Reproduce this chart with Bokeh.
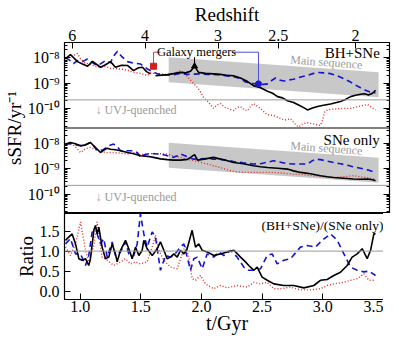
import numpy as np
from bokeh.plotting import figure
from bokeh.models import (Range1d, LogScale, LogAxis, LinearAxis, FixedTicker,
                          CustomJSTickFormatter, Span, Label)
from bokeh.layouts import column
from bokeh.embed import file_html
from bokeh.resources import INLINE

# ---------------- data ----------------
# BH+SNe run: cosmic time (Gyr) and log10 sSFR (yr^-1)
t_bh_main = [0.879, 0.920, 0.978, 1.019, 1.061, 1.102, 1.168, 1.209, 1.250, 1.291, 1.341, 1.390,
             1.440, 1.481, 1.514, 1.547, 1.580, np.nan, 1.621, 1.671, 1.720, 1.770, 1.827, 1.869,
             1.910, 1.943, 1.976, 2.033, 2.099, 2.157, 2.215, 2.264, 2.322, 2.380, 2.429, 2.487,
             2.545, 2.586, 2.627, 2.668, 2.709, 2.759, 2.817, 2.850, 2.874, 2.915, 2.957, 3.006,
             3.064, 3.105, 3.146, 3.187, 3.229, 3.270, 3.311, 3.344, 3.377, 3.410, 3.435]
lssfr_bh_main = [-8.05, -7.88, -8.16, -8.25, -8.34, -8.15, -8.38, -8.28, -8.16, -8.38, -8.30, -8.31,
                 -8.51, -8.40, -8.38, -8.55, -8.64, np.nan, -8.71, -8.69, -8.67, -8.63, -8.58, -8.60,
                 -8.54, -8.34, -8.58, -8.62, -8.64, -8.66, -8.70, -8.71, -8.80, -8.94, -9.10, -9.18,
                 -9.32, -9.40, -9.53, -9.58, -9.69, -9.76, -9.90, -9.98, -10.05, -9.98, -9.92, -9.87,
                 -9.82, -9.77, -9.72, -9.64, -9.53, -9.48, -9.44, -9.42, -9.47, -9.40, -9.28]

t_bh_blue = [0.879, 0.912, 0.945, 0.978, 1.019, 1.061, 1.085, 1.135, 1.168, 1.209, 1.250, 1.275,
             1.308, 1.341, 1.390, 1.440, 1.497, 1.555, 1.596, 1.638, 1.704, 1.770, 1.827, 1.885,
             1.935, 1.992, 2.050, 2.099, 2.157, 2.215, 2.264, 2.322, 2.363, 2.388, 2.429, 2.470,
             2.512, 2.545, 2.578, 2.611, 2.644, 2.677, 2.718, 2.759, 2.817, 2.874, 2.924, 2.957,
             3.006, 3.064, 3.122, 3.171, 3.229, 3.270, 3.311, 3.353, 3.394, 3.435]
lssfr_bh_blue = [-8.00, -8.10, -8.24, -8.12, -8.16, -8.06, -8.15, -8.30, -8.25, -8.12, -8.20, -7.95,
                 -7.75, -7.95, -8.16, -8.22, -8.25, -8.45, -8.55, -8.64, -8.68, -8.68, -8.62, -8.66,
                 -8.65, -8.64, -8.66, -8.66, -8.68, -8.72, -8.75, -8.82, -8.96, -8.98, -9.02, -9.03,
                 -9.05, -9.03, -8.90, -8.80, -8.88, -8.92, -8.88, -8.85, -8.76, -8.70, -8.62, -8.58,
                 -8.60, -8.63, -8.72, -8.82, -8.96, -9.08, -9.18, -9.28, -9.36, -9.38]

t_bh_red = [0.879, 0.920, 0.953, 0.978, 1.003, 1.036, 1.061, 1.102, 1.135, 1.168, 1.209, 1.250,
            1.308, 1.349, 1.390, 1.440, 1.497, 1.555, 1.580, 1.605, 1.663, 1.704, 1.745, 1.786,
            1.827, 1.860, 1.885, 1.926, 1.968, 1.992, 2.017, 2.058, 2.099, 2.132, 2.157, 2.190,
            2.215, 2.264, 2.297, 2.322, 2.355, 2.380, 2.404, 2.429, 2.462, 2.487, 2.520, 2.545,
            2.594, 2.635, 2.685, 2.734, 2.775, 2.800, 2.833, 2.866, 2.899, 2.940, 2.981, 2.998,
            3.014, 3.039, 3.089, 3.146, 3.187, 3.229, 3.278, 3.328, 3.369, 3.402, 3.435]
lssfr_bh_red = [-8.00, -7.95, -7.90, -7.84, -8.05, -8.20, -8.24, -8.30, -8.36, -8.38, -8.35, -8.42,
                -8.44, -8.46, -8.50, -8.58, -8.62, -8.70, -8.60, -8.62, -8.64, -8.66, -8.67, -8.60,
                -8.51, -8.62, -8.75, -8.97, -9.18, -9.35, -9.56, -9.75, -9.99, -9.85, -9.80, -9.95,
                -9.99, -10.08, -9.95, -9.92, -10.05, -10.08, -9.92, -9.80, -9.92, -9.99, -10.15, -10.24,
                -10.27, -10.36, -10.45, -10.40, -10.62, -10.72, -10.60, -10.55, -10.58, -10.62, -10.66, -10.45,
                -10.14, -10.05, -10.02, -10.00, -9.99, -9.99, -9.94, -9.88, -9.84, -9.95, -10.05]

# SNe-only run
t_sn_main = [0.879, 0.920, 0.962, 1.003, 1.044, 1.085, 1.127, 1.168, 1.201, 1.225, 1.250, 1.291,
             1.333, 1.390, 1.440, 1.497, 1.555, 1.605, 1.663, 1.720, 1.770, 1.827, 1.885, 1.943,
             1.968, 2.033, 2.099, 2.157, 2.215, 2.264, 2.346, 2.429, 2.487, 2.545, 2.627, 2.709,
             2.759, 2.817, 2.899, 2.981, 3.039, 3.089, 3.171, 3.253, 3.311, 3.369, 3.410, 3.435]
lssfr_sn_main = [-8.04, -7.98, -8.03, -8.11, -8.07, -7.98, -8.18, -8.37, -8.26, -8.20, -8.24, -8.26,
                 -8.30, -8.37, -8.42, -8.50, -8.52, -8.56, -8.62, -8.65, -8.67, -8.67, -8.64, -8.45,
                 -8.67, -8.62, -8.56, -8.63, -8.69, -8.76, -8.81, -8.89, -8.93, -8.96, -8.99, -9.02,
                 -9.09, -9.15, -9.20, -9.28, -9.32, -9.35, -9.38, -9.41, -9.42, -9.41, -9.44, -9.48]

t_sn_blue = [0.879, 0.920, 0.978, 1.027, 1.085, 1.118, 1.143, 1.192, 1.234, 1.275, 1.308, 1.333,
             1.390, 1.440, 1.473, 1.497, 1.530, 1.555, 1.605, 1.663, 1.720, 1.770, 1.803, 1.827,
             1.885, 1.935, 1.992, 2.050, 2.099, 2.157, 2.215, 2.264, 2.346, 2.429, 2.487, 2.545,
             2.594, 2.652, 2.709, 2.759, 2.817, 2.874, 2.915, 2.940, 2.981, 3.039, 3.089, 3.146,
             3.204, 3.253, 3.311, 3.369, 3.435]
lssfr_sn_blue = [-8.04, -8.03, -8.08, -8.11, -7.98, -8.15, -8.30, -8.26, -8.11, -8.04, -8.15, -8.30,
                 -8.30, -8.30, -8.38, -8.56, -8.46, -8.43, -8.42, -8.43, -8.50, -8.56, -8.50, -8.43,
                 -8.54, -8.63, -8.62, -8.60, -8.63, -8.64, -8.67, -8.72, -8.77, -8.82, -8.81, -8.75,
                 -8.69, -8.75, -8.81, -8.82, -8.82, -8.82, -8.69, -8.63, -8.65, -8.71, -8.76, -8.81,
                 -8.87, -8.93, -8.99, -9.05, -9.15]

t_sn_red = [0.879, 0.920, 0.962, 1.003, 1.044, 1.085, 1.127, 1.168, 1.209, 1.250, 1.308, 1.390,
            1.440, 1.497, 1.555, 1.605, 1.663, 1.720, 1.770, 1.827, 1.885, 1.935, 1.992, 2.050,
            2.099, 2.157, 2.215, 2.264, 2.346, 2.429, 2.512, 2.594, 2.677, 2.759, 2.841, 2.924,
            3.006, 3.089, 3.171, 3.253, 3.311, 3.369, 3.435]
lssfr_sn_red = [-8.04, -7.98, -8.15, -8.37, -8.22, -8.17, -8.26, -8.30, -8.38, -8.37, -8.38, -8.43,
                -8.38, -8.46, -8.42, -8.41, -8.42, -8.43, -8.50, -8.56, -8.64, -8.69, -8.75, -8.82,
                -8.89, -8.96, -9.05, -9.11, -9.15, -9.15, -9.15, -9.15, -9.18, -9.22, -9.24, -9.28,
                -9.32, -9.35, -9.32, -9.28, -9.32, -9.36, -9.41]

# Ratio (BH+SNe)/(SNe only)
t_ratio_main = [0.879, 0.893, 0.934, 0.962, 0.989, 1.016, 1.044, 1.071, 1.085, 1.113, 1.126, 1.140,
                1.154, 1.181, 1.209, 1.236, 1.264, 1.291, 1.305, 1.333, 1.374, 1.401, 1.429, 1.456,
                1.484, 1.511, 1.525, 1.552, 1.594, 1.635, 1.662, 1.690, 1.717, 1.745, 1.772, 1.800,
                1.827, 1.855, 1.882, 1.923, 1.951, 1.978, 2.006, 2.047, 2.102, 2.157, 2.212, 2.267,
                2.322, 2.363, 2.390, 2.432, 2.459, 2.500, 2.542, 2.597, 2.679, 2.761, 2.844, 2.926,
                2.981, 3.036, 3.091, 3.146, 3.201, 3.242, 3.284, 3.325, 3.366, 3.394, 3.421, 3.435]
ratio_main = [1.27, 1.31, 1.43, 1.18, 0.81, 0.77, 0.81, 0.64, 0.81, 1.52, 1.64, 1.43,
              1.60, 1.10, 0.81, 0.85, 1.18, 0.93, 0.73, 1.02, 1.27, 1.06, 0.81, 1.10,
              0.89, 1.02, 1.27, 1.06, 0.89, 1.06, 1.23, 1.02, 0.81, 0.85, 0.93, 0.85,
              1.02, 0.93, 1.06, 1.52, 1.10, 1.18, 1.02, 0.98, 0.89, 0.93, 0.98, 1.02,
              0.85, 0.73, 0.64, 0.52, 0.60, 0.35, 0.27, 0.18, 0.14, 0.14, 0.08, 0.14,
              0.27, 0.29, 0.39, 0.47, 0.64, 0.85, 0.93, 1.06, 0.81, 1.02, 1.43, 1.43]

t_ratio_blue = [0.879, 0.920, 0.962, 1.003, 1.044, 1.071, 1.099, 1.140, 1.168, 1.195, 1.223, 1.264,
                1.291, 1.333, 1.374, 1.401, 1.442, 1.470, 1.497, 1.525, 1.552, 1.594, 1.621, 1.662,
                1.704, 1.745, 1.772, 1.827, 1.855, 1.882, 1.910, 1.937, 1.965, 2.006, 2.047, 2.102,
                2.143, 2.184, 2.239, 2.294, 2.349, 2.390, 2.432, 2.487, 2.542, 2.583, 2.624, 2.679,
                2.734, 2.816, 2.871, 2.940, 2.995, 3.064, 3.119, 3.174, 3.229, 3.284, 3.339, 3.380,
                3.435]
ratio_blue = [1.18, 1.31, 0.93, 0.93, 0.64, 0.89, 1.48, 1.43, 1.18, 1.31, 0.85, 1.23,
              0.89, 0.98, 1.23, 0.93, 0.89, 1.18, 1.93, 1.43, 1.10, 1.48, 1.35, 0.52,
              0.89, 0.85, 0.89, 1.10, 1.18, 0.85, 0.52, 0.81, 0.85, 0.56, 0.93, 0.85,
              0.98, 0.89, 1.02, 0.85, 0.60, 0.52, 0.52, 0.56, 0.89, 0.93, 0.68, 0.77,
              0.81, 1.10, 1.14, 1.10, 1.27, 1.43, 1.27, 0.93, 0.60, 0.52, 0.48, 0.50,
              0.39]

t_ratio_red = [0.879, 0.920, 0.962, 1.003, 1.044, 1.071, 1.113, 1.140, 1.181, 1.223, 1.278, 1.333,
               1.374, 1.415, 1.456, 1.497, 1.552, 1.594, 1.621, 1.649, 1.690, 1.745, 1.800, 1.841,
               1.868, 1.896, 1.923, 1.951, 1.992, 2.033, 2.102, 2.157, 2.212, 2.294, 2.377, 2.432,
               2.487, 2.542, 2.597, 2.652, 2.734, 2.816, 2.899, 2.981, 3.036, 3.091, 3.174, 3.229,
               3.284, 3.339, 3.380, 3.435]
ratio_red = [1.10, 0.89, 1.18, 1.73, 1.02, 0.73, 1.14, 1.73, 0.85, 0.77, 0.64, 0.73,
             0.81, 0.68, 0.73, 0.68, 0.73, 1.10, 1.39, 1.02, 0.77, 0.60, 0.56, 0.93,
             1.14, 0.85, 0.31, 0.27, 0.39, 0.18, 0.06, 0.14, 0.08, 0.14, 0.10, 0.22,
             0.18, 0.22, 0.06, 0.06, 0.10, 0.03, 0.03, 0.06, 0.14, 0.18, 0.22, 0.27,
             0.31, 0.43, 0.27, 0.27]

# Main-sequence band (log10 sSFR edges at its two ends)
ms_t = [1.73, 3.46]
ms_lo = [-8.97, -9.56]
ms_hi = [-7.99, -8.58]
uvj_ssfr = 2.2e-10

# Galaxy-merger events (red, black, blue runs)
merger_t = [1.605, 1.943, 2.470]
merger_lssfr = [-8.34, -8.34, -9.03]

# Tick labels
redshift_labels = ["6", "4", "3", "2.5", "2"]
redshift_age = [0.934, 1.535, 2.137, 2.632, 3.270]
t_ticks = [1.0, 1.5, 2.0, 2.5, 3.0, 3.5]
ratio_ticks = [0.0, 0.5, 1.0, 1.5]
ssfr_major_exp = [-8, -9, -10]

# ---------------- styling ----------------
FONT = "Liberation Serif"
BLACK = "#000000"
BLUE = "#1414d2"
RED = "#e02828"
GREY = "#999999"
BAND = "#c8c8c8"

TOP_LO, TOP_HI = -10.76, -7.41
SPAN = TOP_HI - TOP_LO

x_range = Range1d(0.871, 3.55)


def pw(a):
    return 10.0 ** np.asarray(a, dtype=float)


def style_axis(ax):
    ax.major_tick_in = 6
    ax.major_tick_out = 0
    ax.minor_tick_in = 3
    ax.minor_tick_out = 0
    ax.axis_line_color = BLACK
    ax.major_tick_line_color = BLACK
    ax.minor_tick_line_color = BLACK
    ax.major_label_text_font = FONT
    ax.major_label_text_font_size = "16px"
    ax.major_label_text_color = BLACK
    ax.axis_label_text_font = FONT
    ax.axis_label_text_font_size = "19px"
    ax.axis_label_text_font_style = "normal"
    ax.axis_label_text_color = BLACK
    ax.major_label_standoff = 2
    ax.axis_label_standoff = 2


def hide_labels(ax):
    ax.major_label_text_font_size = "1px"
    ax.major_label_text_color = None
    ax.major_label_standoff = 0


# ---------- Figure A: sSFR panels (BH+SNe on top, SNe only below) ----------
pA = figure(frame_width=325, frame_height=171, x_range=x_range,
            y_axis_type="log", y_range=Range1d(10 ** (TOP_LO - SPAN), 10 ** TOP_HI),
            extra_y_ranges={"mid": Range1d(10 ** TOP_LO, 10 ** (TOP_HI + SPAN))},
            extra_y_scales={"mid": LogScale()},
            x_axis_location="above",
            output_backend="svg", toolbar_location=None,
            min_border_left=56, min_border_right=2, min_border_top=34, min_border_bottom=0)
pA.grid.visible = False
pA.outline_line_color = BLACK
pA.outline_line_width = 1.2

# y ticks: top panel at true values, middle panel shifted by one panel span
maj = []
mnr = []
for shift in (0.0, -SPAN):
    for e in ssfr_major_exp:
        maj.append(10 ** (e + shift))
    for d in range(-11, -7):
        for k in range(2, 10):
            lv = d + np.log10(k)
            if TOP_LO < lv < TOP_HI:
                mnr.append(10 ** (lv + shift))
yticker = FixedTicker(ticks=maj, minor_ticks=mnr)
yfmt = CustomJSTickFormatter(args=dict(lo=TOP_LO, span=SPAN), code="""
    let l = Math.log10(tick);
    if (l < lo - 1e-6) { l += span; }
    const e = Math.round(l);
    const sup = {'-': '\u207b', '0': '\u2070', '1': '\u00b9', '2': '\u00b2', '3': '\u00b3',
                 '4': '\u2074', '5': '\u2075', '6': '\u2076', '7': '\u2077', '8': '\u2078', '9': '\u2079'};
    return '10' + String(e).split('').map(c => sup[c]).join('');
""")
yax = pA.yaxis[0]
style_axis(yax)
yax.ticker = yticker
yax.formatter = yfmt
yax.axis_label = "sSFR/yr\u207b\u00b9"
yax.major_label_standoff = 5
yax.axis_label_standoff = 0

rax = LogAxis(ticker=yticker)
style_axis(rax)
hide_labels(rax)
pA.add_layout(rax, "right")

xax = pA.xaxis[0]
style_axis(xax)
xax.ticker = FixedTicker(ticks=redshift_age, minor_ticks=[])
xax.formatter = CustomJSTickFormatter(args=dict(ages=redshift_age, labels=redshift_labels), code="""
    const i = ages.findIndex(a => Math.abs(a - tick) < 1e-6);
    return i >= 0 ? labels[i] : '';
""")
xax.axis_label = "Redshift"

# main-sequence bands
pA.varea(x=ms_t, y1=pw(ms_lo), y2=pw(ms_hi), fill_color=BAND)
pA.varea(x=ms_t, y1=pw(ms_lo), y2=pw(ms_hi), fill_color=BAND, y_range_name="mid")

# UVJ lines and panel separator
pA.add_layout(Span(location=uvj_ssfr, dimension="width", line_color=GREY, line_width=1))
pA.add_layout(Span(location=uvj_ssfr, dimension="width", line_color=GREY, line_width=1, y_range_name="mid"))
pA.add_layout(Span(location=10 ** TOP_LO, dimension="width", line_color=BLACK, line_width=1.2))

# top panel curves
pA.line(t_bh_red, pw(lssfr_bh_red), line_color=RED, line_width=1.4, line_dash="1 2")
pA.line(t_bh_blue, pw(lssfr_bh_blue), line_color=BLUE, line_width=1.6, line_dash="6 4")
pA.line(t_bh_main, pw(lssfr_bh_main), line_color=BLACK, line_width=1.6)

# middle panel curves
pA.line(t_sn_red, pw(lssfr_sn_red), line_color=RED, line_width=1.4, line_dash="1 2", y_range_name="mid")
pA.line(t_sn_blue, pw(lssfr_sn_blue), line_color=BLUE, line_width=1.6, line_dash="6 4", y_range_name="mid")
pA.line(t_sn_main, pw(lssfr_sn_main), line_color=BLACK, line_width=1.6, y_range_name="mid")

# galaxy-merger annotation
lab_ly = -7.79
pA.line([1.662, merger_t[0], merger_t[0]], pw([lab_ly, lab_ly, merger_lssfr[0]]), line_color="#d04040", line_width=1)
pA.line([merger_t[1], merger_t[1]], pw([-7.98, merger_lssfr[1]]), line_color=BLACK, line_width=1)
pA.line([2.256, merger_t[2], merger_t[2]], pw([lab_ly, lab_ly, merger_lssfr[2]]), line_color="#5050e0", line_width=1)
pA.scatter([merger_t[0]], pw([merger_lssfr[0]]), marker="square", size=6, color="#d02020")
pA.scatter([merger_t[1]], pw([merger_lssfr[1]]), marker="triangle", size=6, color=BLACK)
pA.scatter([merger_t[2]], pw([merger_lssfr[2]]), marker="circle", size=6, color="#1a1ad0")


def add_label(p, x, y, text, size, color=BLACK, align="left", angle=0.0, rng="default"):
    p.add_layout(Label(x=x, y=y, text=text, text_font=FONT, text_font_size=size,
                       text_color=color, text_align=align, text_baseline="middle",
                       angle=angle, y_range_name=rng))


add_label(pA, 1.96, 10 ** lab_ly, "Galaxy mergers", "12.5px", align="center")
add_label(pA, 3.47, 10 ** -7.84, "BH+SNe", "15px", align="right")
add_label(pA, 3.47, 10 ** -7.87, "SNe only", "15px", align="right", rng="mid")
add_label(pA, 3.03, 10 ** -8.18, "Main sequence", "12px", color=GREY, align="center", angle=-0.073)
add_label(pA, 3.03, 10 ** -8.20, "Main sequence", "12px", color=GREY, align="center", angle=-0.073, rng="mid")
add_label(pA, 1.127, 10 ** -10.04, "\u2193 UVJ-quenched", "12px", color=GREY)
add_label(pA, 1.127, 10 ** -10.11, "\u2193 UVJ-quenched", "12px", color=GREY, rng="mid")

# ---------- Figure B: ratio panel ----------
pB = figure(frame_width=325, frame_height=86, x_range=x_range, y_range=Range1d(-0.21, 1.94),
            output_backend="svg", toolbar_location=None,
            min_border_left=56, min_border_right=2, min_border_top=0, min_border_bottom=0)
pB.grid.visible = False
pB.outline_line_color = BLACK
pB.outline_line_width = 1.2

bx = pB.xaxis[0]
style_axis(bx)
bx.ticker = FixedTicker(ticks=t_ticks, minor_ticks=[])
bx.formatter = CustomJSTickFormatter(code="return tick.toFixed(1);")
bx.axis_label = "t/Gyr"
bx.axis_label_text_font_size = "20px"
bx.major_label_standoff = 1
bx.axis_label_standoff = -3

by = pB.yaxis[0]
style_axis(by)
by.ticker = FixedTicker(ticks=ratio_ticks, minor_ticks=[])
by.formatter = CustomJSTickFormatter(code="return tick.toFixed(1);")
by.axis_label = "Ratio"
by.major_label_standoff = 5
by.axis_label_standoff = 0

rbx = LinearAxis(ticker=FixedTicker(ticks=ratio_ticks, minor_ticks=[]))
style_axis(rbx)
hide_labels(rbx)
pB.add_layout(rbx, "right")

pB.add_layout(Span(location=1.0, dimension="width", line_color=GREY, line_width=1))
pB.line(t_ratio_red, ratio_red, line_color=RED, line_width=1.4, line_dash="1 2")
pB.line(t_ratio_blue, ratio_blue, line_color=BLUE, line_width=1.6, line_dash="6 4")
pB.line(t_ratio_main, ratio_main, line_color=BLACK, line_width=1.6)
add_label(pB, 3.50, 1.64, "(BH+SNe)/(SNe only)", "13.5px", align="right")

layout = column(pA, pB)
open("out.html", "w", encoding="utf-8").write(file_html(layout, INLINE))
